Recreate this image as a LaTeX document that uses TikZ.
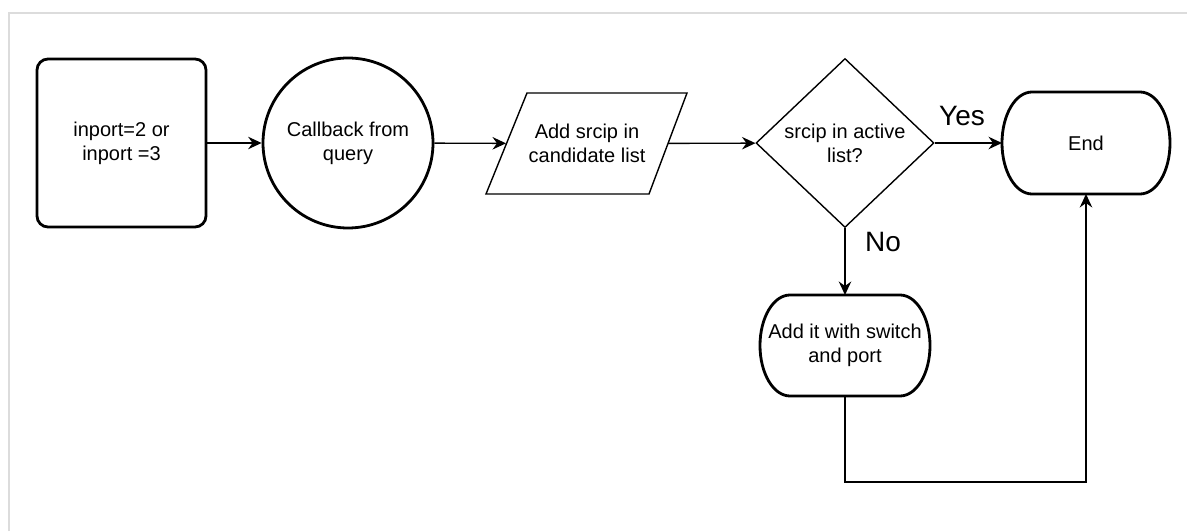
\documentclass[tikz,border=0pt]{standalone}
\usepackage{fontspec}
\setmainfont{Liberation Sans}
\usetikzlibrary{shapes.geometric,arrows.meta,calc}
\definecolor{framegray}{HTML}{DCDCDC}
\begin{document}
\begin{tikzpicture}[x=1pt,y=1pt,
  txt/.style={font=\fontsize{20}{24}\selectfont, align=center, inner sep=0pt},
  thickline/.style={line width=2.8pt},
  thinline/.style={line width=1.4pt},
  conn/.style={line width=1.4pt, -{Stealth[length=13.5pt,width=12.5pt,inset=4.5pt]}},
  lbl/.style={font=\fontsize{28}{32}\selectfont, inner sep=0pt, anchor=base}]
\useasboundingbox (0,0) rectangle (1187,531);

% outer frame
\draw[framegray, line width=2pt] (9,0) -- (9,517.7) -- (1187,517.7);

% start box
\node[txt, draw, thickline, rounded corners=11pt, minimum width=169, minimum height=168] (start) at (121.5,388) {inport=2 or\\inport =3};

% callback circle
\node[txt, circle, draw, thickline, minimum size=170] (cb) at (348,388) {Callback from\\query};

% candidate list (parallelogram outline drawn around the node)
\node[txt, minimum width=162, minimum height=101, outer sep=0pt] (cand) at (587,387.5) {Add srcip in\\candidate list};
\draw[thinline, line join=miter] (527,438) -- (687,438) -- (649,337) -- (486,337) -- cycle;

% decision
\node[txt, diamond, draw, thinline, minimum width=178, minimum height=169] (dec) at (845,388) {srcip in active\\list?};

% end terminator: straight top and bottom, half-elliptic sides
\node[txt, minimum width=168, minimum height=102, outer sep=0pt] (endn) at (1086,388) {End};
\draw[thickline] (1032,439) -- (1140,439)
  arc[start angle=90, end angle=-90, x radius=30, y radius=51]
  -- (1032,337)
  arc[start angle=270, end angle=90, x radius=30, y radius=51] -- cycle;

% add entry terminator
\node[txt, minimum width=170, minimum height=101, outer sep=0pt] (addit) at (845,185.5) {Add it with switch\\and port};
\draw[thickline] (790,236) -- (900,236)
  arc[start angle=90, end angle=-90, x radius=30, y radius=50.5]
  -- (790,135)
  arc[start angle=270, end angle=90, x radius=30, y radius=50.5] -- cycle;

% labels
\node[lbl] (yes) at (962,405) {Yes};
\node[lbl] (no) at (883,279) {No};

% connectors
\coordinate (turn) at (845,49);
\draw[conn] (start) -- (cb);
\draw[conn] (cb) -- (cand);
\draw[conn] (cand) -- (dec);
\draw[conn] (dec) -- (endn);
\draw[conn] (dec) -- (addit);
\draw[conn] (addit.south) -- (turn) -| (endn.south);
\end{tikzpicture}
\end{document}
